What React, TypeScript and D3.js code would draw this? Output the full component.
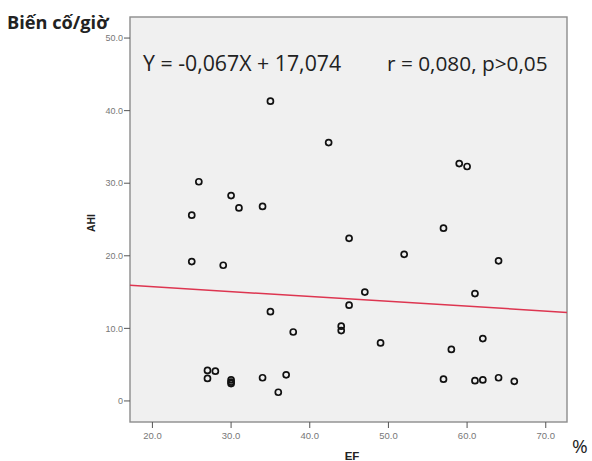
import React, { useEffect } from 'react';
import * as d3 from 'd3';

// EF (%) vs AHI (events/hour)
const efValues = [
  25.9, 25.0, 25.0, 30.0, 31.0, 34.0, 29.0, 35.0, 42.4, 45.0,
  52.0, 57.0, 59.0, 60.0, 64.0, 61.0, 47.0, 45.0, 35.0, 37.9,
  44.0, 44.0, 49.0, 58.0, 62.0, 27.0, 28.0, 27.0, 30.0, 30.0,
  30.0, 34.0, 37.0, 36.0, 57.0, 61.0, 62.0, 64.0, 66.0,
];
const ahiValues = [
  30.2, 25.6, 19.2, 28.3, 26.6, 26.8, 18.7, 41.3, 35.6, 22.4,
  20.2, 23.8, 32.7, 32.3, 19.3, 14.8, 15.0, 13.2, 12.3, 9.5,
  10.3, 9.7, 8.0, 7.1, 8.6, 4.2, 4.1, 3.1, 2.9, 2.6,
  2.4, 3.2, 3.6, 1.2, 3.0, 2.8, 2.9, 3.2, 2.7,
];
const xTicks = [20, 30, 40, 50, 60, 70];
const yTicks = [0, 10, 20, 30, 40, 50];
const slope = -0.067;
const intercept = 17.074;
const equationText = 'Y = -0,067X + 17,074';
const statsText = 'r = 0,080, p>0,05';

export default function App() {
  useEffect(() => {
    document.body.style.margin = '0';
  }, []);

  const width = 592;
  const height = 461;
  const plot = { left: 130, top: 17, right: 567, bottom: 422 };

  const x = d3.scaleLinear().domain([17.15, 72.7]).range([plot.left, plot.right]);
  const y = d3.scaleLinear().domain([-2.9, 52.9]).range([plot.bottom, plot.top]);

  const points = efValues.map((ef, i) => ({ ef, ahi: ahiValues[i] }));
  const [x0, x1] = x.domain();
  const fitLine = d3.line<number>()
    .x(d => x(d))
    .y(d => y(slope * d + intercept));

  const tickFont = 'Liberation Sans, Arial, sans-serif';
  const textFont = '"Open Sans", "Noto Sans", sans-serif';

  return (
    <svg width={width} height={height} style={{ display: 'block', background: '#fff' }}>
      {/* plot area */}
      <rect x={plot.left} y={plot.top} width={plot.right - plot.left} height={plot.bottom - plot.top}
        fill="#f0f0f0" stroke="#8c8c8c" strokeWidth={1.4} />

      {/* y axis ticks */}
      {yTicks.map(t => (
        <g key={'y' + t} transform={`translate(${plot.left},${y(t)})`}>
          <line x1={-6} x2={0} stroke="#555" strokeWidth={1} />
          <text x={-7} dy="0.35em" textAnchor="end" fontSize={9} fill="#777" fontFamily={tickFont}>
            {t === 0 ? '0' : d3.format('.1f')(t)}
          </text>
        </g>
      ))}

      {/* x axis ticks */}
      {xTicks.map(t => (
        <g key={'x' + t} transform={`translate(${x(t)},${plot.bottom})`}>
          <line y1={0} y2={6} stroke="#555" strokeWidth={1} />
          <text y={17} textAnchor="middle" fontSize={9.5} fill="#777" fontFamily={tickFont}>
            {d3.format('.1f')(t)}
          </text>
        </g>
      ))}

      {/* regression line */}
      <path d={fitLine([x0, x1]) || ''} fill="none" stroke="#dd3550" strokeWidth={1.5} />

      {/* points */}
      {points.map((p, i) => (
        <circle key={i} cx={x(p.ef)} cy={y(p.ahi)} r={3} fill="none" stroke="#111" strokeWidth={1.7} />
      ))}

      {/* annotations */}
      <text x={143} y={71} fontSize={21.3} fill="#222" fontFamily={textFont}>{equationText}</text>
      <text x={387} y={71} fontSize={20.8} fill="#222" fontFamily={textFont}>{statsText}</text>

      {/* axis titles */}
      <text x={7} y={29} fontSize={18.2} fontWeight="bold" fill="#222" fontFamily={textFont}>Biến cố/giờ</text>
      <text transform="translate(95,223) rotate(-90)" textAnchor="middle" fontSize={10.5} fontWeight="bold"
        fill="#222" fontFamily={tickFont}>AHI</text>
      <text x={352} y={460} textAnchor="middle" fontSize={11.5} fontWeight="bold" fill="#222" fontFamily={tickFont}>EF</text>
      <text x={572} y={453} fontSize={19} fill="#222" fontFamily={textFont}>%</text>
    </svg>
  );
}
